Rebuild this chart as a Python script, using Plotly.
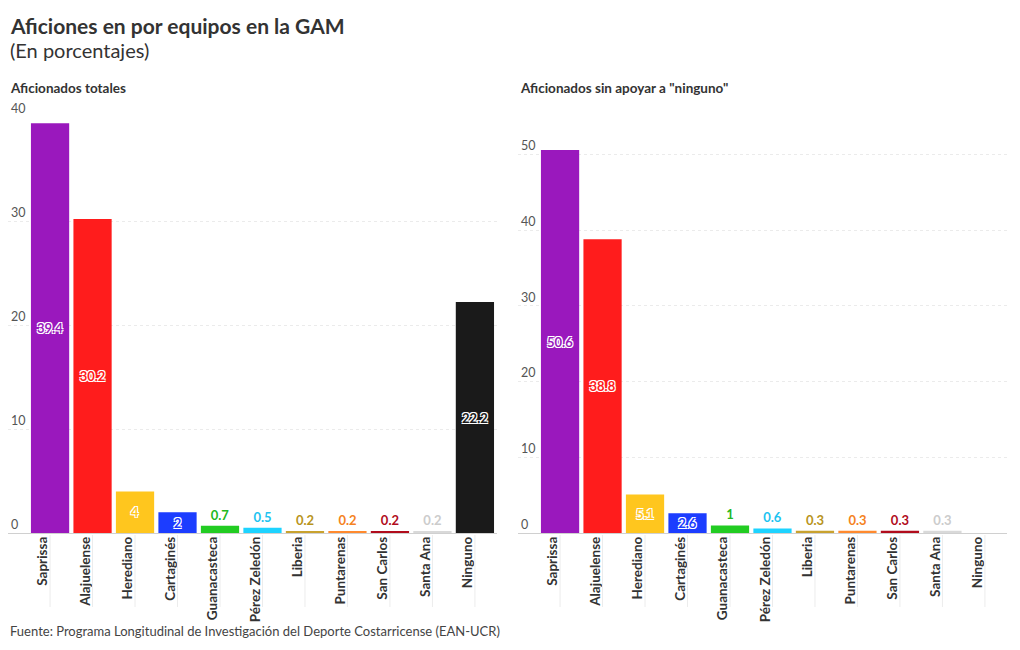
import plotly.graph_objects as go

categories = ["Saprissa", "Alajuelense", "Herediano", "Cartaginés", "Guanacasteca",
              "Pérez Zeledón", "Liberia", "Puntarenas", "San Carlos", "Santa Ana", "Ninguno"]
totales = [39.4, 30.2, 4, 2, 0.7, 0.5, 0.2, 0.2, 0.2, 0.2, 22.2]
sin_ninguno = [50.6, 38.8, 5.1, 2.6, 1, 0.6, 0.3, 0.3, 0.3, 0.3, None]
colors = ["#9a18bd", "#ff1c1c", "#ffc61e", "#1c3dff", "#22cc22", "#1dd3ff",
          "#c9a22e", "#ff8a2e", "#b10c1c", "#d9d9d9", "#1a1a1a"]
label_colors = ["#9a18bd", "#ff1c1c", "#ffc61e", "#1c3dff", "#22b822", "#1dc3f0",
                "#b8941c", "#f58222", "#b10c1c", "#cccccc", "#1a1a1a"]

FONT = "Source Sans Pro, Lato, Noto Sans, sans-serif"
W, H = 1020, 650
OFF = 8  # page body margin
def px(x): return (x - OFF) / W
def py(y): return 1 - (y - OFF) / H

outline = ("1px 1px 0 #fff, -1px -1px 0 #fff, 1px -1px 0 #fff, -1px 1px 0 #fff")

def fmt(v):
    if v is None:
        return ""
    return f"{v:g}"

def make_trace(vals, xa, ya, thresh):
    pos = ["inside" if (v is not None and v >= thresh) else "outside" for v in vals]
    tf = dict(family=FONT, size=13, color=label_colors, weight="bold", shadow=outline)
    return go.Bar(
        x=categories, y=vals, xaxis=xa, yaxis=ya,
        marker=dict(color=colors, line=dict(width=0)),
        text=[fmt(v) for v in vals], textposition=pos,
        insidetextanchor="middle", constraintext="none", cliponaxis=False,
        textangle=0,
        textfont=tf, outsidetextfont=tf, insidetextfont=tf,
        hoverinfo="x+y", showlegend=False,
    )

fig = go.Figure()
fig.add_trace(make_trace(totales, "x", "y", 1.9))
fig.add_trace(make_trace(sin_ninguno, "x2", "y2", 2.5))

xcommon = dict(type="category", tickangle=-90, showgrid=False, zeroline=False, showline=False,
               ticks="", ticklabelshift=-7, range=[-0.92, 10.52], automargin=False,
               tickfont=dict(family=FONT, size=13.5, color="#333333", weight="bold"))
ycommon = dict(ticklabelposition="inside top", ticklabeloverflow="allow", automargin=False,
               tickfont=dict(family=FONT, size=12.5, color="#555555"),
               showgrid=True, gridcolor="#ebebeb", griddash="dot", gridwidth=1,
               zeroline=True, zerolinecolor="#d0d0d0", zerolinewidth=1, showline=False,
               ticks="")

fig.update_layout(
    width=W, height=H, margin=dict(l=0, r=0, t=0, b=0, autoexpand=False),
    paper_bgcolor="white", plot_bgcolor="white",
    bargap=0.1,
    font=dict(family=FONT, color="#333333"),
    xaxis=dict(domain=[px(8), px(497)], anchor="y", **xcommon),
    yaxis=dict(domain=[py(533), py(117)], anchor="x", range=[0, 40], dtick=10, **ycommon),
    xaxis2=dict(domain=[px(518), px(1007)], anchor="y2", **xcommon),
    yaxis2=dict(domain=[py(533), py(147)], anchor="x2", range=[0, 51], dtick=10, **ycommon),
)
# keep category pitch same after widening domain slightly
fig.update_xaxes(range=[-0.99, 10.52])

# faint vertical tick lines below each category
shapes = []
for xa in ["x", "x2"]:
    for c in categories:
        shapes.append(dict(type="line", xref=xa, yref="paper", x0=c, x1=c,
                           y0=py(607), y1=py(535), line=dict(color="#ececec", width=1)))
fig.update_layout(shapes=shapes)

ann = [
    dict(text="<b>Aficiones en por equipos en la GAM</b>", x=px(8), y=py(25),
         font=dict(size=21, color="#333333", family=FONT)),
    dict(text="(En porcentajes)", x=px(8), y=py(50),
         font=dict(size=20, color="#333333", family=FONT)),
    dict(text="<b>Aficionados totales</b>", x=px(8), y=py(88),
         font=dict(size=13.5, color="#333333", family=FONT)),
    dict(text="<b>Aficionados sin apoyar a \"ninguno\"</b>", x=px(518), y=py(88),
         font=dict(size=13.5, color="#333333", family=FONT)),
    dict(text="Fuente: Programa Longitudinal de Investigación del Deporte Costarricense (EAN-UCR)",
         x=px(8), y=py(631), font=dict(size=13, color="#444444", family=FONT)),
]
for a in ann:
    a.update(xref="paper", yref="paper", xanchor="left", yanchor="middle", showarrow=False)
fig.update_layout(annotations=ann)

fig.write_html("out.html")
